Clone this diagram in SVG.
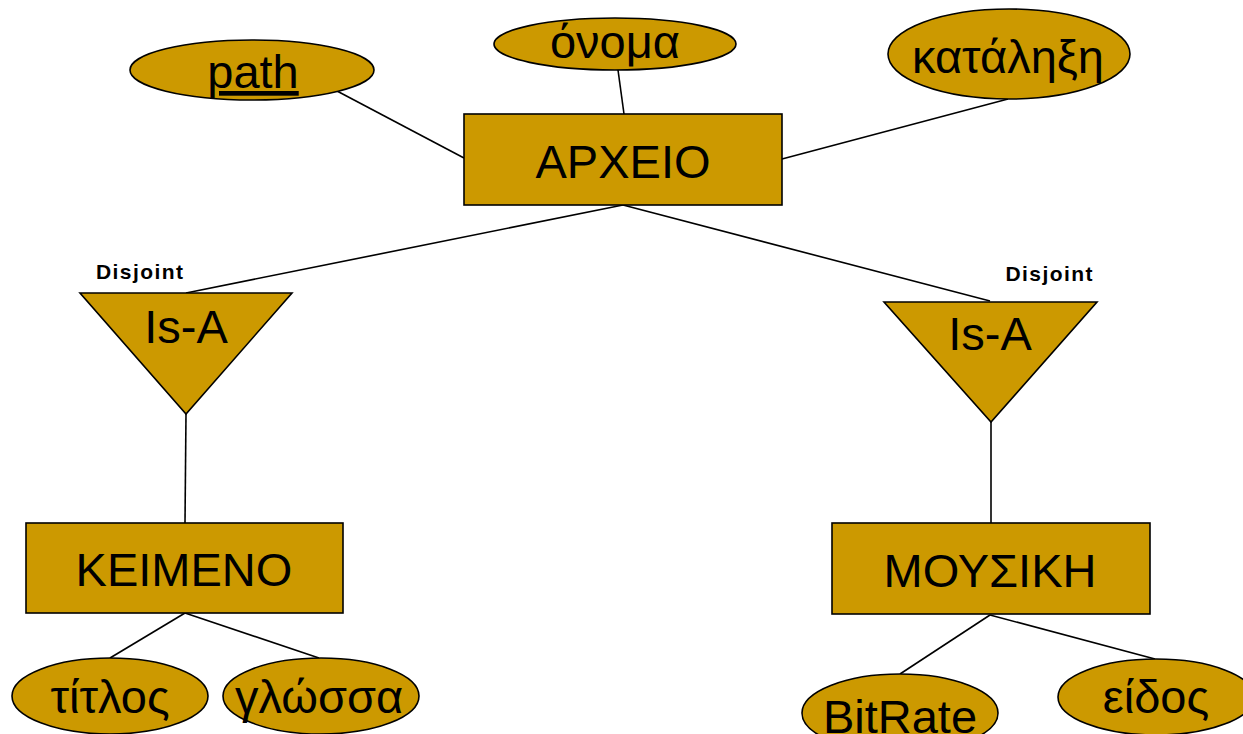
<svg xmlns="http://www.w3.org/2000/svg" width="1243" height="734" viewBox="0 0 1243 734">
<style>
.shape{fill:#CC9900;stroke:#000;stroke-width:1.6}
.lbl{font-family:"Liberation Sans",Arial,sans-serif;font-size:47px;fill:#000;text-anchor:middle}
.dj{font-family:"Liberation Sans",Arial,sans-serif;font-size:21px;font-weight:bold;fill:#000;text-anchor:middle}
.conn line{stroke:#000;stroke-width:1.6}
</style>
<rect width="1243" height="734" fill="#fff"/>
<g class="conn" id="connectors">
<line x1="337" y1="91" x2="464" y2="158"/>
<line x1="618" y1="70" x2="624" y2="114"/>
<line x1="1008" y1="99" x2="782" y2="159"/>
<line x1="623" y1="205" x2="186" y2="293"/>
<line x1="623" y1="205" x2="990" y2="301"/>
<line x1="186" y1="414" x2="185" y2="523"/>
<line x1="991" y1="422" x2="991" y2="523"/>
<line x1="185" y1="613" x2="110" y2="658"/>
<line x1="185" y1="613" x2="319" y2="658"/>
<line x1="990" y1="615" x2="900" y2="674"/>
<line x1="990" y1="615" x2="1155" y2="659"/>
</g>
<g id="path">
<ellipse class="shape" cx="252" cy="70" rx="122" ry="30"/>
<text class="lbl" x="253" y="88" text-decoration="underline">path</text>
</g>
<g id="onoma">
<ellipse class="shape" cx="615" cy="44" rx="121" ry="26"/>
<text class="lbl" x="615" y="58">όνομα</text>
</g>
<g id="katalixi">
<ellipse class="shape" cx="1009" cy="54" rx="121" ry="45"/>
<text class="lbl" x="1008" y="73">κατάληξη</text>
</g>
<g id="arxeio">
<rect class="shape" x="464" y="114" width="318" height="91"/>
<text class="lbl" x="623" y="178">ΑΡΧΕΙΟ</text>
</g>
<g id="isa-left">
<polygon class="shape" points="80,293 292,293 186,414"/>
<text class="lbl" x="186" y="343">Is-A</text>
<text class="dj" x="139.5" y="279" textLength="87" lengthAdjust="spacing">Disjoint</text>
</g>
<g id="isa-right">
<polygon class="shape" points="884,302 1097,302 991,422"/>
<text class="lbl" x="990" y="350">Is-A</text>
<text class="dj" x="1049" y="281" textLength="87" lengthAdjust="spacing">Disjoint</text>
</g>
<g id="keimeno">
<rect class="shape" x="26" y="523" width="317" height="90"/>
<text class="lbl" x="184" y="586">ΚΕΙΜΕΝΟ</text>
</g>
<g id="mousiki">
<rect class="shape" x="832" y="523" width="318" height="91"/>
<text class="lbl" x="990" y="587">ΜΟΥΣΙΚΗ</text>
</g>
<g id="titlos">
<ellipse class="shape" cx="110" cy="696" rx="98" ry="38"/>
<text class="lbl" x="110" y="713">τίτλος</text>
</g>
<g id="glossa">
<ellipse class="shape" cx="321" cy="696" rx="98" ry="38"/>
<text class="lbl" x="319" y="713">γλώσσα</text>
</g>
<g id="bitrate">
<ellipse class="shape" cx="900" cy="713" rx="98" ry="39"/>
<text class="lbl" x="900" y="733">BitRate</text>
</g>
<g id="eidos">
<ellipse class="shape" cx="1156" cy="697" rx="98" ry="38"/>
<text class="lbl" x="1156" y="713">είδος</text>
</g>
</svg>
